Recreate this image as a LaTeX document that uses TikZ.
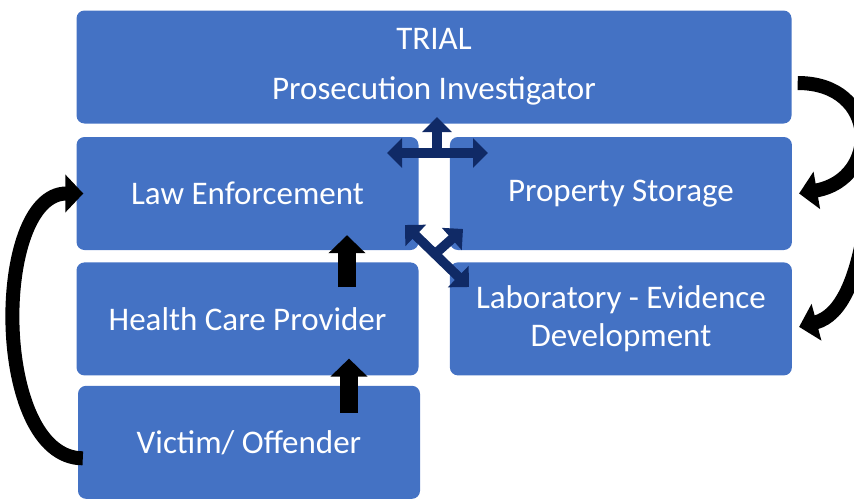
\documentclass[tikz,border=0pt]{standalone}
\usepackage{fontspec}
\setmainfont{Carlito}
\usetikzlibrary{positioning,arrows.meta}
\definecolor{boxblue}{RGB}{68,114,196}
\definecolor{hubnavy}{RGB}{16,42,102}
\tikzset{base/.style = {rectangle, rounded corners=8pt, fill=boxblue, text=white,
                           minimum width=342pt, minimum height=113pt, inner sep=0pt,
                           align=center, font=\fontsize{33}{38}\selectfont}}

\begin{document}
\begin{tikzpicture}[x=1pt, y=-1pt,
  blockup/.style = {line width=18pt, -{Triangle[width=36pt,length=18pt]}},
  curvearrow/.style = {line width=14pt, -{Triangle[width=37pt,length=18pt]}},
  hubline/.style = {draw=hubnavy, line width=9.5pt},
  hubtip/.style = {-{Triangle[width=29pt,length=15pt]}},
  hubtips/.style = {{Triangle[width=29pt,length=15pt]}-{Triangle[width=29pt,length=15pt]}}]
\clip (0,0) rectangle (854,498);
\node[base, minimum width=715pt] (trial) at (434,67) {TRIAL\\[12pt]Prosecution Investigator};
\node[base] (law) at (247.5,193.5) {Law Enforcement};
\node[base, right=31pt of law] (prop) {Property Storage};
\node[base, below=12pt of law] (hcp) {Health Care Provider};
\node[base, below=12pt of prop] (lab) {Laboratory - Evidence\\Development};
\node[base, below=10pt of hcp, xshift=1.5pt] (victim) {Victim/ Offender};
% black arrows up the left column
\draw[blockup] ([xshift=100pt,yshift=-27pt]victim.north) -- ([xshift=101.5pt,yshift=17pt]hcp.south);
\draw[blockup] ([xshift=99.5pt,yshift=-25pt]hcp.north) -- ([xshift=99.5pt,yshift=15pt]law.south);
% curved arrows
\coordinate (offright) at (864,232);
\draw[curvearrow] ([xshift=6pt,yshift=-16pt]trial.east) to[out=0,in=10,looseness=1.9] ([xshift=7pt]prop.east);
\draw[curvearrow] (offright) to[out=-100,in=15] ([xshift=7pt,yshift=-8pt]lab.east);
\draw[curvearrow] ([xshift=5pt,yshift=-16pt]victim.west) to[out=180,in=180,looseness=0.88] ([xshift=7pt]law.west);
% navy hub arrows
\coordinate (hubtop) at (437,153);
\coordinate (tipup) at (437,117);
\coordinate (tipleft) at (387,153);
\coordinate (tipright) at (488,153);
\coordinate (tipnw) at (405,225);
\coordinate (tipse) at (469,287);
\coordinate (tipne) at (463,229);
\coordinate (hubbot) at (435,254);
\draw[hubline, hubtips] (tipleft) -- (tipright);
\draw[hubline, hubtip] (hubtop) -- (tipup);
\draw[hubline, hubtips] (tipnw) -- (tipse);
\draw[hubline, hubtip] (hubbot) -- (tipne);
\end{tikzpicture}
\end{document}
